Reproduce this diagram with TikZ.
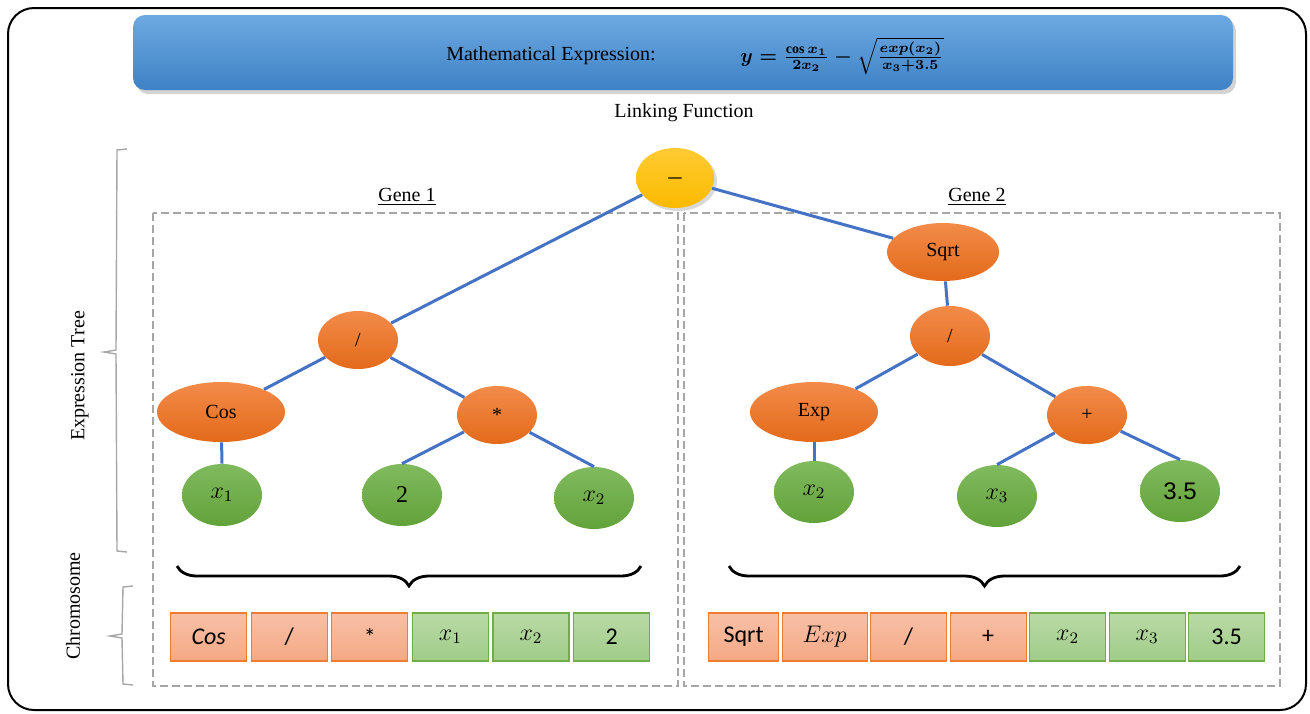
\documentclass[tikz,border=0pt]{standalone}
\usepackage{amsmath,amssymb}
\usepackage{fontspec}
\setmainfont{Liberation Serif}
\setsansfont{Carlito}
\newfontfamily\arialfont{Liberation Sans}
\usepackage{tikz}
\usetikzlibrary{positioning}
\usetikzlibrary{shapes.geometric}
\usetikzlibrary{shadows}
\usetikzlibrary{decorations.pathreplacing}
\definecolor{bannerTop}{HTML}{6DA9E1}
\definecolor{bannerBot}{HTML}{3E82C6}
\definecolor{opTop}{HTML}{F38B4A}
\definecolor{opBot}{HTML}{E36A1A}
\definecolor{leafTop}{HTML}{80BA5E}
\definecolor{leafBot}{HTML}{62A23A}
\definecolor{rootTop}{HTML}{FFCB33}
\definecolor{rootBot}{HTML}{FBBA00}
\definecolor{linkblue}{HTML}{4472C4}
\definecolor{cellOpTop}{HTML}{F8C0A7}
\definecolor{cellOpBot}{HTML}{F4A884}
\definecolor{cellOpLine}{HTML}{ED7D31}
\definecolor{cellLfTop}{HTML}{B9DAA6}
\definecolor{cellLfBot}{HTML}{A0CC88}
\definecolor{cellLfLine}{HTML}{70AD47}
\definecolor{frameGray}{HTML}{A6A6A6}
\newcommand{\exprformula}{$y=\frac{\cos x_1}{2x_2}-\sqrt{\frac{exp(x_2)}{x_3+3.5}}$}
\tikzset{opnode/.style={ellipse,top color=opTop,bottom color=opBot,
		minimum width=40pt,minimum height=29pt,inner sep=0pt},
	widenode/.style={opnode,minimum width=64pt,minimum height=30pt},
	leafnode/.style={ellipse,top color=leafTop,bottom color=leafBot,
		minimum width=40pt,minimum height=31pt,inner sep=0pt,font=\large},
	rootnode/.style={ellipse,top color=rootTop,bottom color=rootBot,
		minimum width=39pt,minimum height=30pt,inner sep=0pt,
		drop shadow={opacity=0.3,shadow xshift=1.5pt,shadow yshift=-1.5pt}},
	link/.style={draw=linkblue,line width=1.5pt},
	opcell/.style={rectangle,top color=cellOpTop,bottom color=cellOpBot,
		draw=cellOpLine,line width=0.6pt,minimum width=38pt,minimum height=24pt,
		inner sep=0pt,font=\sffamily\large},
	leafcell/.style={opcell,top color=cellLfTop,bottom color=cellLfBot,draw=cellLfLine},
	genebox/.style={draw=frameGray,line width=1pt,dash pattern=on 4pt off 2pt},
	genebrace/.style={decorate,decoration={brace,mirror,amplitude=10pt},
		line width=1.4pt},
	sidebrace/.style={draw=frameGray,line width=0.7pt}}

\begin{document}
\begin{tikzpicture}[x=0.5pt,y=-0.5pt]
	\useasboundingbox (0,0) rectangle (1310,713);
	% outer frame
	\draw[line width=1pt,rounded corners=13pt] (8,8) rectangle (1306,710);
	% banner
	\node[rectangle,rounded corners=6pt,top color=bannerTop,bottom color=bannerBot,
		minimum width=550pt,minimum height=37.5pt,
		drop shadow={opacity=0.35,shadow xshift=1.5pt,shadow yshift=-2pt}]
		(banner) at (683,52.5) {};
	\node (title) at (551,56) {Mathematical Expression:};
	\node[font=\boldmath] (formula) at (842,56) {\exprformula};
	\node (linking) at (684,113) {Linking Function};
	% gene frames
	\draw[genebox] (153,213) rectangle (678,686);
	\draw[genebox] (684,213) rectangle (1280,686);
	\node (gene1) at (407,197) {\underline{Gene 1}};
	\node (gene2) at (977,197) {\underline{Gene 2}};
	% side labels
	\node[rotate=90] (treelabel) at (80,376) {Expression Tree};
	\node[rotate=90] (chromlabel) at (73,606) {Chromosome};
	\draw[sidebrace] (127,149) -- (117,150) -- (116,350) -- (104,352)
		-- (116,354) -- (117,551) -- (127,552);
	\draw[sidebrace] (133,586) -- (123,587) -- (122,634) -- (110,636)
		-- (122,638) -- (123,684) -- (133,685);
	% expression tree
	\node[rootnode] (root) at (675,178) {$\boldsymbol{-}$};
	\begin{scope}
		\node[opnode] (divA) at (358,340) {/};
		\node[widenode] (cos) at (221,412) {Cos};
		\node[opnode] (mulA) at (497,415) {*};
		\node[leafnode] (xa) at (222,495) {$x_1$};
		\node[leafnode] (two) at (402,495) {2};
		\node[leafnode] (xb) at (594,498) {$x_2$};
		\node[opnode,minimum width=56pt] (sqrt) at (943,252) {Sqrt};
		\node[opnode,minimum height=30pt] (divB) at (950,336) {/};
		\node[widenode] (exp) at (814,412) {Exp};
		\node[opnode] (plus) at (1087,415) {+};
		\node[leafnode] (xc) at (814,492) {$x_2$};
		\node[leafnode] (xd) at (997,496) {$x_3$};
		\node[leafnode] (num) at (1180,491) {\arialfont 3.5};
	\end{scope}
	\begin{scope}[every path/.style={link}]
		\path (root) -- (divA);
		\path (root) -- (sqrt);
		\path (divA) -- (cos);
		\path (divA) -- (mulA);
		\path (cos) -- (xa.north);
		\path (mulA) -- (two.north);
		\path (mulA) -- (xb.north);
		\path (sqrt) -- (divB);
		\path (divB) -- (exp);
		\path (divB) -- (plus);
		\path (exp) -- (xc.north);
		\path (plus) -- (xd.north);
		\path (plus) -- (num.north);
	\end{scope}
	% braces
	\draw[genebrace] (177,566) -- (641,566);
	\draw[genebrace] (729,566) -- (1240,566);
	% chromosomes
	\node[opcell,anchor=west] (c1) at (170,637) {\itshape Cos};
	\node[opcell,right=1.7pt of c1] (c2) {/};
	\node[opcell,right=1.7pt of c2] (c3) {*};
	\node[leafcell,right=1.7pt of c3] (c4) {$x_1$};
	\node[leafcell,right=1.7pt of c4] (c5) {$x_2$};
	\node[leafcell,right=1.7pt of c5] (c6) {2};
	\node[opcell,anchor=west,minimum width=35pt] (d1) at (708,637) {Sqrt};
	\node[opcell,right=1.15pt of d1,minimum width=42.5pt] (d2) {$Exp$};
	\node[opcell,right=1.15pt of d2] (d3) {/};
	\node[opcell,right=1.15pt of d3] (d4) {+};
	\node[leafcell,right=1.15pt of d4] (d5) {$x_2$};
	\node[leafcell,right=1.15pt of d5] (d6) {$x_3$};
	\node[leafcell,right=1.15pt of d6] (d7) {3.5};
\end{tikzpicture}
\end{document}
